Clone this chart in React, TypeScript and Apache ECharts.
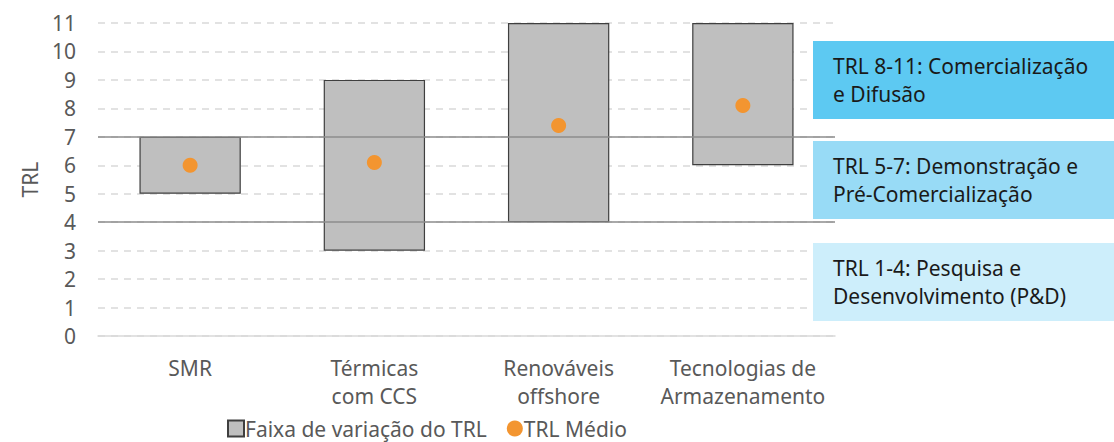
import React, { useEffect, useRef } from "react";
import * as echarts from "echarts";

const categories = ["SMR", "Térmicas\ncom CCS", "Renováveis\noffshore", "Tecnologias de\nArmazenamento"];
const trlMin = [5, 3, 4, 6];
const trlMax = [7, 9, 11, 11];
const trlMean = [6.0, 6.1, 7.4, 8.1];
const thresholds = [4, 7];
const bandLabels = [
  "TRL 8-11: Comercialização\ne Difusão",
  "TRL 5-7: Demonstração e\nPré-Comercialização",
  "TRL 1-4: Pesquisa e\nDesenvolvimento (P&D)",
];
const bandColors = ["#5DC9F2", "#98DBF6", "#CDEEFB"];
const legendNames = ["Faixa de variação do TRL", "TRL Médio"];

const FONT = "'Noto Sans', Inter, sans-serif";
const GRAY = "#595959";
const FS = 21;

export default function App() {
  const ref = useRef<HTMLDivElement>(null);
  useEffect(() => {
    const chart = echarts.init(ref.current!, null, { renderer: "svg" });
    const bandTops = [41, 141, 243];
    const graphics: any[] = [];
    bandLabels.forEach((t, i) => {
      graphics.push({
        type: "rect",
        shape: { x: 813, y: bandTops[i], width: 301, height: 78 },
        style: { fill: bandColors[i] },
        z: 1,
      });
      graphics.push({
        type: "text",
        x: 833,
        y: bandTops[i] + 39,
        style: {
          text: t,
          fill: "#1A1A1A",
          font: `${FS}px ${FONT}`,
          lineHeight: 28,
          verticalAlign: "middle",
          align: "left",
        },
        z: 2,
      });
    });
    chart.setOption({
      animation: false,
      textStyle: { fontFamily: FONT },
      grid: { left: 98, right: 279, top: 23, bottom: 106 },
      legend: {
        bottom: -2,
        left: 222,
        itemGap: 20,
        itemWidth: 16,
        itemHeight: 16,
        textStyle: { fontSize: FS, color: GRAY, fontFamily: FONT, padding: [0, 0, 0, -4] },
        data: [
          { name: legendNames[0], icon: "rect" },
          { name: legendNames[1], icon: "circle" },
        ],
      },
      xAxis: {
        type: "category",
        data: categories,
        axisLine: { show: true, lineStyle: { color: "#D9D9D9", width: 1.5 } },
        axisTick: { show: false },
        axisLabel: { color: GRAY, fontSize: FS, lineHeight: 28, margin: 18, fontFamily: FONT, interval: 0 },
      },
      yAxis: {
        type: "value",
        min: 0,
        max: 11,
        interval: 1,
        name: "TRL",
        nameLocation: "middle",
        nameRotate: 90,
        nameGap: 58,
        nameTextStyle: { color: GRAY, fontSize: FS, fontFamily: FONT },
        axisLine: { show: false },
        axisTick: { show: false },
        axisLabel: { color: GRAY, fontSize: FS, margin: 22, fontFamily: FONT },
        splitLine: { lineStyle: { color: "#D9D9D9", width: 1.5, type: [7, 6] } },
      },
      series: [
        {
          name: "base",
          type: "bar",
          stack: "r",
          barWidth: "55%",
          data: trlMin,
          itemStyle: { color: "transparent" },
          silent: true,
        },
        {
          name: legendNames[0],
          type: "bar",
          stack: "r",
          barWidth: "55%",
          data: trlMax.map((v, i) => v - trlMin[i]),
          itemStyle: { color: "#BFBFBF", borderColor: "#3F3F3F", borderWidth: 1.2 },
          markLine: {
            symbol: "none",
            silent: true,
            label: { show: false },
            lineStyle: { color: "#8C8C8C", width: 1.5, type: "solid" },
            data: thresholds.map((v) => ({ yAxis: v })),
            z: 5,
          },
        },
        {
          name: legendNames[1],
          type: "scatter",
          data: trlMean,
          symbol: "circle",
          symbolSize: 15,
          itemStyle: { color: "#F39530", opacity: 1 },
          z: 10,
        },
      ],
      graphic: graphics,
    });
    return () => chart.dispose();
  }, []);
  return <div ref={ref} style={{ width: 1114, height: 442, position: "absolute", left: 0, top: 0 }} />;
}
